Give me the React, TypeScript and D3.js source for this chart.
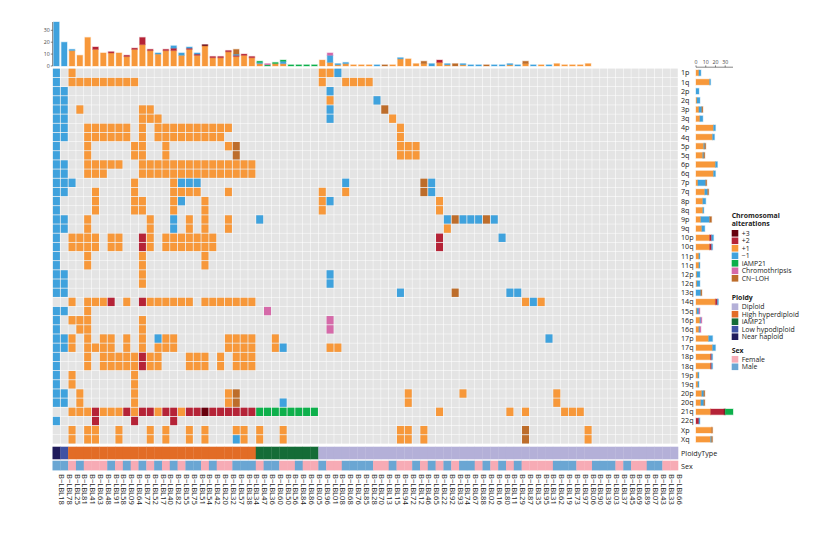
import React from "react";
import * as d3 from "d3";

// ---------------- DATA ----------------
const sampleIds = [
  "18","78","25","81","41","63","48","91","58","09","64","77","52","17","40","82","55","75","51","54",
  "42","20","32","57","38","34","47","36","60","50","56","84","86","05","96","01","08","68","76","85",
  "28","70","13","15","94","72","12","46","65","22","92","93","74","67","88","02","16","80","11","29",
  "87","35","95","31","62","19","73","97","06","90","39","03","37","45","69","89","07","43","33","66",
];
const samples = sampleIds.map((s) => "B\u2212LBL" + s);

const arms = [
  "1p","1q","2p","2q","3p","3q","4p","4q","5p","5q","6p","6q","7p","7q","8p","8q","9p","9q",
  "10p","10q","11p","11q","12p","12q","13q","14q","15q","16p","16q","17p","17q","18p","18q",
  "19p","19q","20p","20q","21q","22q","Xp","Xq",
];

// alteration codes: d=+3, r=+2, o=+1, b=-1, g=iAMP21, p=Chromothripsis, n=CN-LOH
// entries: "<sampleIndex>[-<sampleIndex>]<code>"
const armAlterations = [
  "0b 2o 34o 35o 36b",
  "0b 2-10o 34o 37-40o",
  "0-1b 35b",
  "0-1b 35o 41b",
  "0-1b 3o 11-12o 35b 42n",
  "0-1b 11-13o 35b 43o",
  "0-1b 4-9o 11o 13-22o 44o",
  "0-1b 4-9o 11o 13-21o 44o",
  "0b 4o 10-11o 14o 22o 23n 44-46o",
  "0b 4o 10-11o 14o 23n 44-46o",
  "0-1b 4-8o 11-25o",
  "0-1b 4-6o 11-25o",
  "0-2b 10o 15o 16-18b 37b 47n 48b",
  "0-1b 5o 10o 15-18o 22o 34o 37o 47n 48b",
  "0b 5o 10-11o 15o 16b 19o 34o 35b 49o",
  "0b 5o 10-11o 15o 19o 34o 49o",
  "0-1b 4o 12o 15b 17o 19o 22o 26b 50b 51n 52-54b 55n 56b",
  "0-1b 4o 12o 15b 17o 19o 22o 50o",
  "0b 2-5o 7-8o 11r 12o 14-20o 49r 57b",
  "0b 2-5o 7-8o 11r 12o 14-20o 49r",
  "0b 4o 11o 19o",
  "0b 4o 11o 19o",
  "0-1b 11o 35b",
  "0-1b 11o 35b",
  "0-1b 44b 51n 58-59b",
  "2o 4-6o 7r 9o 11r 12-17o 19-25o 60o 61b 62o",
  "0-1b 4o 27p",
  "0b 2-4o 11o 35p",
  "0b 3-4o 11o 35p",
  "0-1b 2o 4o 6-7o 9o 11o 13b 14-15o 22-25o 28o 63b",
  "0-1b 2o 4-7o 9o 11o 13-15o 22-25o 28o 29b 35-36o",
  "0b 4o 6-10o 11r 12-13o 17-19o 21o 23-25o",
  "0b 4o 6-10o 11r 12-13o 17-19o 21o 23-25o",
  "0b 2o 10o",
  "0b 2o 10o",
  "0-1b 3o 10o 22o 23n 45o 52o 64o",
  "0-1b 3o 10o 22o 23n 29b 45o 64o",
  "2-4o 5r 6-8o 9r 10o 11-12r 13o 14-15r 16o 17-18r 19d 20-25r 26-33g 49o 58o 60o 65-67o",
  "0b 5r 10r 15r",
  "2o 4-5o 8o 12o 14o 17o 19o 23-24o 26o 29o 44-45o 47o 60n 68o",
  "2o 4-5o 8o 12o 14o 17o 19o 23b 24o 26o 29o 44-45o 47o 60n 68o",
];

const altCodes = ["d", "r", "o", "b", "g", "p", "n"];
const altLabels = ["+3", "+2", "+1", "\u22121", "iAMP21", "Chromothripsis", "CN\u2212LOH"];
const altColors = ["#67000d", "#b52337", "#f7983a", "#3fa2dd", "#0db04b", "#d56aa9", "#bd6d2b"];
const stackOrder = ["o", "r", "d", "b", "g", "p", "n"];

const ploidyLabels = ["Diploid", "High hyperdiploid", "iAMP21", "Low hypodiploid", "Near haploid"];
const ploidyColors = ["#b4b0d8", "#e26c26", "#146c37", "#3f52a4", "#1f1b5b"];
// runs of consecutive samples: [ploidy index, count]
const ploidyRuns: [number, number][] = [[4, 1], [3, 1], [1, 24], [2, 8], [0, 46]];

const sexLabels = ["Female", "Male"];
const sexColors = ["#f7abb5", "#6aa6d3"];
const sexCodes =
  "MMFMFFFMFM" + "FMFMFMFMMF" + "MFFMMMFMMF" + "FMFFMFFMMM" +
  "MFFMFFMFMF" + "MFMMFMFMFM" + "FFFFMMMFFM" + "MMFMFFMMFF";

const countTicks = [0, 10, 20, 30];

// ---------------- HELPERS ----------------
function parseRow(s: string): (string | null)[] {
  const row: (string | null)[] = new Array(samples.length).fill(null);
  s.split(/\s+/).filter(Boolean).forEach((tok) => {
    const m = tok.match(/^(\d+)(?:-(\d+))?([a-z])$/);
    if (!m) return;
    const a = +m[1];
    const b = m[2] ? +m[2] : a;
    for (let i = a; i <= b; i++) row[i] = m[3];
  });
  return row;
}

const FONT = "'Open Sans', sans-serif";

export default function App() {
  const matrix = armAlterations.map(parseRow);

  const x = d3.scaleBand<string>().domain(samples).range([52.5, 678]);
  const y = d3.scaleBand<string>().domain(arms).range([68.3, 443.9]);
  const cw = x.bandwidth();
  const rh = y.bandwidth();

  const colCounts = samples.map((_, c) => {
    const cnt: Record<string, number> = {};
    altCodes.forEach((k) => (cnt[k] = 0));
    matrix.forEach((row) => { if (row[c]) cnt[row[c] as string]++; });
    return cnt;
  });
  const rowCounts = matrix.map((row) => {
    const cnt: Record<string, number> = {};
    altCodes.forEach((k) => (cnt[k] = 0));
    row.forEach((v) => { if (v) cnt[v]++; });
    return cnt;
  });
  const colTotals = colCounts.map((c) => d3.sum(altCodes, (k) => c[k]));
  const rowTotals = rowCounts.map((c) => d3.sum(altCodes, (k) => c[k]));

  const topMax = d3.max(colTotals) ?? 1;
  const rightMax = d3.max(rowTotals) ?? 1;

  const topY = d3.scaleLinear().domain([0, topMax]).range([66, 22]);
  const rightX = d3.scaleLinear().domain([0, rightMax]).range([696, 733]);

  const color = (code: string) => altColors[altCodes.indexOf(code)];

  const ploidyPerSample: number[] = [];
  ploidyRuns.forEach(([p, n]) => { for (let i = 0; i < n; i++) ploidyPerSample.push(p); });

  const topBars: JSX.Element[] = [];
  samples.forEach((s, c) => {
    let acc = 0;
    const bw = cw * 0.72;
    const bx = (x(s) as number) + (cw - bw) / 2;
    stackOrder.forEach((k) => {
      const v = colCounts[c][k];
      if (!v) return;
      const y0 = topY(acc), y1 = topY(acc + v);
      topBars.push(
        <rect key={`t${c}${k}`} x={bx} y={y1} width={bw} height={y0 - y1}
          fill={color(k)} stroke={color(k)} strokeOpacity={0.3} strokeWidth={1.2} />
      );
      acc += v;
    });
  });

  const rightBars: JSX.Element[] = [];
  arms.forEach((a, r) => {
    let acc = 0;
    const bh = rh * 0.62;
    const by = (y(a) as number) + (rh - bh) / 2;
    stackOrder.forEach((k) => {
      const v = rowCounts[r][k];
      if (!v) return;
      const x0 = rightX(acc), x1 = rightX(acc + v);
      rightBars.push(
        <rect key={`r${r}${k}`} x={x0} y={by} width={x1 - x0} height={bh}
          fill={color(k)} stroke={color(k)} strokeOpacity={0.3} strokeWidth={1.2} />
      );
      acc += v;
    });
  });

  const legendX = 731.7;
  const altLegendY = [233.3, 240.8, 248.3, 255.8, 263.3, 270.8, 278.3];
  const ployLegendY = [306.7, 314.2, 321.7, 329.2, 336.7];
  const sexLegendY = [359.3, 366.8];
  const sw = 6.6;
  const LF = 6.9;

  return (
    <svg width={832} height={546} style={{ position: "absolute", left: 0, top: 0, background: "#fff" }}
      fontFamily={FONT}>
      {/* background grid */}
      {arms.map((a) =>
        samples.map((s) => (
          <rect key={`g${a}${s}`} x={(x(s) as number) + 0.25} y={(y(a) as number) + 0.25}
            width={cw - 0.5} height={rh - 0.5} fill="#e4e4e4" />
        ))
      )}
      {/* alterations */}
      {matrix.map((row, r) =>
        row.map((v, c) =>
          v ? (
            <rect key={`c${r}-${c}`} x={(x(samples[c]) as number) + 0.4} y={(y(arms[r]) as number) + 0.4}
              width={cw - 0.8} height={rh - 0.8} fill={color(v)} />
          ) : null
        )
      )}
      {/* ploidy & sex annotation */}
      {samples.map((s, c) => (
        <rect key={`pl${c}`} x={x(s) as number} y={446.7} width={cw + 0.3} height={12.6}
          fill={ploidyColors[ploidyPerSample[c]]} />
      ))}
      {samples.map((s, c) => (
        <rect key={`sx${c}`} x={x(s) as number} y={460.7} width={cw + 0.3} height={9.7}
          fill={sexColors[sexCodes[c] === "F" ? 0 : 1]} />
      ))}
      {/* sample labels */}
      {samples.map((s) => (
        <text key={`sl${s}`} transform={`translate(${(x(s) as number) + cw / 2 + 2.5},474) rotate(90)`}
          fontSize={7.6} fill="#222">{s}</text>
      ))}
      {/* row labels */}
      {arms.map((a) => (
        <text key={`rl${a}`} x={681} y={(y(a) as number) + rh / 2 + 2.5} fontSize={7.2} fill="#222">{a}</text>
      ))}
      <text x={681} y={455.5} fontSize={7.2} fill="#222">PloidyType</text>
      <text x={681} y={468.5} fontSize={7.2} fill="#222">Sex</text>

      {/* top barplot */}
      {topBars}
      <line x1={52.6} x2={52.6} y1={topY(0)} y2={topY(topMax)} stroke="#333" strokeWidth={0.6} />
      {countTicks.map((t) => (
        <g key={`tt${t}`}>
          <line x1={50.8} x2={52.6} y1={topY(t)} y2={topY(t)} stroke="#333" strokeWidth={0.6} />
          <text x={49.8} y={topY(t) + 1.8} fontSize={5.2} textAnchor="end" fill="#444">{t}</text>
        </g>
      ))}

      {/* right barplot */}
      {rightBars}
      <line x1={rightX(0)} x2={rightX(rightMax)} y1={67.2} y2={67.2} stroke="#333" strokeWidth={0.6} />
      {countTicks.map((t) => (
        <g key={`rt${t}`}>
          <line x1={rightX(t)} x2={rightX(t)} y1={65.4} y2={67.2} stroke="#333" strokeWidth={0.6} />
          <text x={rightX(t)} y={64} fontSize={5.2} textAnchor="middle" fill="#444">{t}</text>
        </g>
      ))}

      {/* legends */}
      <text x={legendX} y={218.3} fontSize={LF} fontWeight="bold" fill="#222">Chromosomal</text>
      <text x={legendX} y={226} fontSize={LF} fontWeight="bold" fill="#222">alterations</text>
      {altLabels.map((l, i) => (
        <g key={`la${i}`}>
          <rect x={legendX} y={altLegendY[i] - sw / 2} width={sw} height={sw} fill={altColors[i]} />
          <text x={legendX + 10} y={altLegendY[i] + 2.4} fontSize={LF} fill="#222">{l}</text>
        </g>
      ))}
      <text x={legendX} y={299.8} fontSize={LF} fontWeight="bold" fill="#222">Ploidy</text>
      {ploidyLabels.map((l, i) => (
        <g key={`lp${i}`}>
          <rect x={legendX} y={ployLegendY[i] - sw / 2} width={sw} height={sw} fill={ploidyColors[i]} />
          <text x={legendX + 10} y={ployLegendY[i] + 2.4} fontSize={LF} fill="#222">{l}</text>
        </g>
      ))}
      <text x={legendX} y={352.6} fontSize={LF} fontWeight="bold" fill="#222">Sex</text>
      {sexLabels.map((l, i) => (
        <g key={`ls${i}`}>
          <rect x={legendX} y={sexLegendY[i] - sw / 2} width={sw} height={sw} fill={sexColors[i]} />
          <text x={legendX + 10} y={sexLegendY[i] + 2.4} fontSize={LF} fill="#222">{l}</text>
        </g>
      ))}
    </svg>
  );
}
